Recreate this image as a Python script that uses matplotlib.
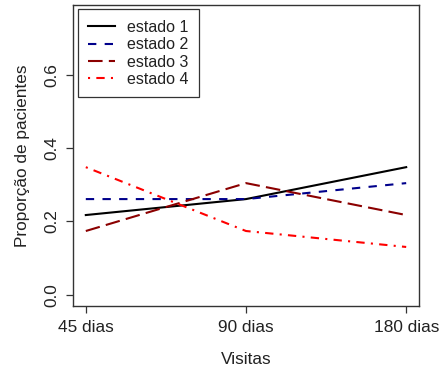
import numpy as np
import matplotlib.pyplot as plt

plt.rcParams['font.family'] = ['Liberation Sans', 'DejaVu Sans']

visitas = ['45 dias', '90 dias', '180 dias']
# proporção de pacientes em cada estado (n = 23 por visita)
estado1 = [5 / 23, 6 / 23, 8 / 23]
estado2 = [6 / 23, 6 / 23, 7 / 23]
estado3 = [4 / 23, 7 / 23, 5 / 23]
estado4 = [8 / 23, 4 / 23, 3 / 23]

series = [
    ('estado 1', estado1, 'black', '-'),
    ('estado 2', estado2, '#00008B', (0, (4, 4))),
    ('estado 3', estado3, '#8B0000', (0, (7, 3))),
    ('estado 4', estado4, 'red', (0, (1, 3, 4, 3))),
]

fs = 12.4

fig = plt.figure(figsize=(4.44, 3.69), dpi=100)
ax = fig.add_axes([0.1644, 0.1707, 0.9437 - 0.1644, 0.9873 - 0.1707])

x = np.arange(1, len(visitas) + 1)
for nome, vals, cor, estilo in series:
    ax.plot(x, vals, color=cor, linestyle=estilo, linewidth=1.5, label=nome)

# limites no estilo do R (4% de folga)
ax.set_xlim(1 - 0.08, 3 + 0.08)
ax.set_ylim(0 - 0.0304, 0.76 + 0.0304)

ax.set_xticks(x)
ax.set_xticklabels(visitas)
ax.set_yticks([0.0, 0.2, 0.4, 0.6])
ax.set_yticklabels(['0.0', '0.2', '0.4', '0.6'], rotation=90, va='center')

ax.tick_params(direction='out', length=5, width=0.9, colors='#333333',
               labelcolor='#222222', labelsize=fs, pad=5)
ax.tick_params(axis='y', pad=5)
for s in ax.spines.values():
    s.set_color('#333333')
    s.set_linewidth(1.0)

ax.set_xlabel('Visitas', fontsize=fs, color='#222222', labelpad=12)
ax.set_ylabel('Proporção de pacientes', fontsize=fs, color='#222222', labelpad=10)

leg = ax.legend(loc='upper left', bbox_to_anchor=(0, 1), borderaxespad=0.3,
                fancybox=False, framealpha=1, edgecolor='#333333',
                fontsize=11.5, handlelength=1.7, handletextpad=0.75,
                labelspacing=0.15, borderpad=0.65)
leg.get_frame().set_linewidth(0.9)
for t in leg.get_texts():
    t.set_color('#222222')

fig.savefig('out.png', dpi=100)
